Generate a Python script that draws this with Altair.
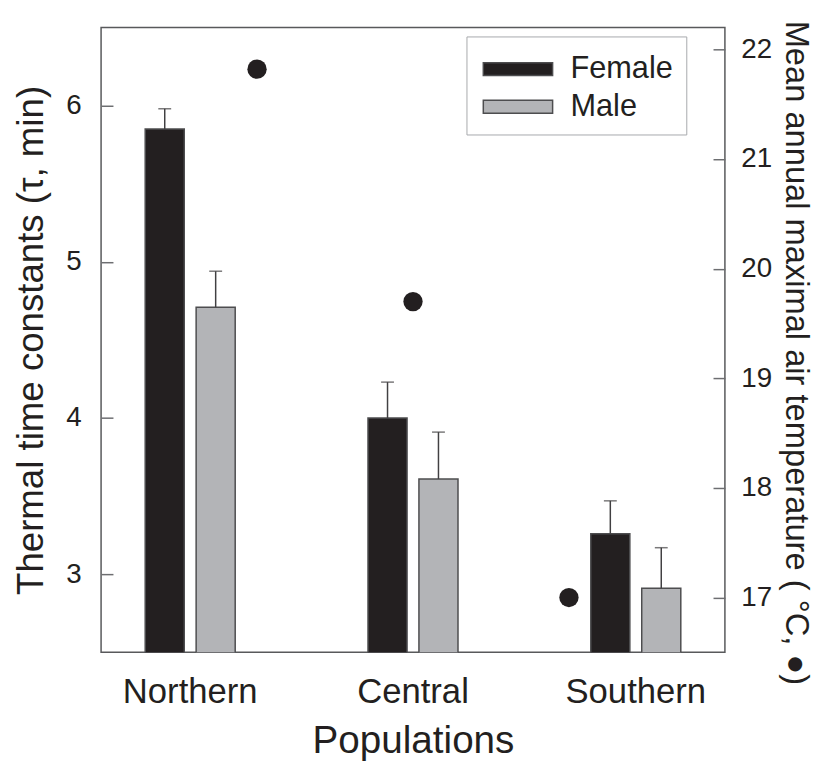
import altair as alt
import pandas as pd

populations = ["Northern", "Central", "Southern"]
sexes = ["Female", "Male"]
female_tau = [5.85, 4.00, 3.26]
female_se = [0.13, 0.23, 0.21]
male_tau = [4.71, 3.61, 2.91]
male_se = [0.23, 0.30, 0.26]
max_temp = [21.82, 19.7, 17.0]

rows = []
for i, p in enumerate(populations):
    rows.append({"Population": p, "Sex": "Female", "tau": female_tau[i],
                 "upper": female_tau[i] + female_se[i]})
    rows.append({"Population": p, "Sex": "Male", "tau": male_tau[i],
                 "upper": male_tau[i] + male_se[i]})
bars_df = pd.DataFrame(rows)
temp_df = pd.DataFrame({"Population": populations, "temp": max_temp})

FONT = "Liberation Sans"
TEXT = "#231f20"
FRAME = "#58595b"
ERR = "#414042"
LEFT_TITLE = "Thermal time constants (\u03c4, min)"
RIGHT_TITLE = "Mean annual maximal air temperature ( \u00b0C, \u25cf)"

band_scale = alt.Scale(domain=populations, paddingInner=0.596, paddingOuter=0.198)
off_scale = alt.Scale(domain=sexes, paddingInner=0.233, paddingOuter=0)
tau_scale = alt.Scale(domain=[2.5, 6.5], nice=False, zero=False)

x_axis = alt.Axis(title="Populations", ticks=False, tickSize=0, domain=False,
                  labelPadding=23, labelFontSize=35, titleFontSize=39,
                  titlePadding=12, labelAngle=0)
y_axis = alt.Axis(values=[3, 4, 5, 6], format="d", title=LEFT_TITLE, offset=-12,
                  tickSize=12, tickWidth=1.5, labelPadding=20, labelFontSize=28,
                  titleFontSize=37, titlePadding=16)

legend = alt.Legend(
    title=None, orient="none", legendX=369, legendY=9, direction="vertical",
    strokeColor="#a7a9ac", fillColor="white", padding=13,
    labelFontSize=31, labelFont=FONT, labelColor=TEXT, labelOffset=52,
    symbolType="M-0.842,-0.342H2.842V0.342H-0.842Z", symbolSize=1444,
    symbolStrokeColor="#4d4d4f", symbolStrokeWidth=1.5, symbolOpacity=1,
    rowPadding=3, labelLimit=400,
)

bars = alt.Chart(bars_df).mark_bar(stroke="#4d4d4f", strokeWidth=1.5, clip=True).encode(
    x=alt.X("Population:N", sort=populations, scale=band_scale, axis=x_axis),
    xOffset=alt.XOffset("Sex:N", scale=off_scale),
    y=alt.Y("tau:Q", scale=tau_scale, axis=y_axis, title=LEFT_TITLE),
    color=alt.Color("Sex:N", scale=alt.Scale(domain=sexes, range=["#231f20", "#b3b4b7"]),
                    legend=legend),
)

err = alt.Chart(bars_df).mark_rule(color=ERR, strokeWidth=1.5).encode(
    x=alt.X("Population:N", sort=populations, scale=band_scale),
    xOffset=alt.XOffset("Sex:N", scale=off_scale),
    y=alt.Y("tau:Q", scale=tau_scale, title=LEFT_TITLE),
    y2="upper:Q",
)

caps = alt.Chart(bars_df).mark_tick(color=ERR, thickness=1.5, size=13).encode(
    x=alt.X("Population:N", sort=populations, scale=band_scale),
    xOffset=alt.XOffset("Sex:N", scale=off_scale),
    y=alt.Y("upper:Q", scale=tau_scale, title=LEFT_TITLE),
)

left = alt.layer(bars, err, caps)

dots = alt.Chart(temp_df).mark_circle(size=380, color=TEXT, opacity=1).encode(
    x=alt.X("Population:N", sort=populations,
            scale=alt.Scale(type="point", domain=populations, padding=1), axis=None),
    y=alt.Y("temp:Q", scale=alt.Scale(domain=[16.5, 22.2], nice=False, zero=False),
            axis=alt.Axis(orient="right", values=[17, 18, 19, 20, 21, 22],
                          title=RIGHT_TITLE, offset=-12, tickSize=12, tickWidth=1.5,
                          labelPadding=16, labelFontSize=28, titleFontSize=33,
                          titlePadding=7, titleY=328)),
)

chart = alt.layer(left, dots).resolve_scale(x="independent", y="independent").properties(
    width=630, height=631, autosize="none",
    padding={"left": 94, "top": 16, "right": 93, "bottom": 107},
).configure_view(stroke=FRAME, strokeWidth=1.5).configure_axis(
    labelFont=FONT, titleFont=FONT, labelColor=TEXT, titleColor=TEXT,
    tickColor="#6d6e71", grid=False, domain=False, titleFontWeight="normal",
)

chart.save("out.html", embed_options={"renderer": "svg", "actions": False})
